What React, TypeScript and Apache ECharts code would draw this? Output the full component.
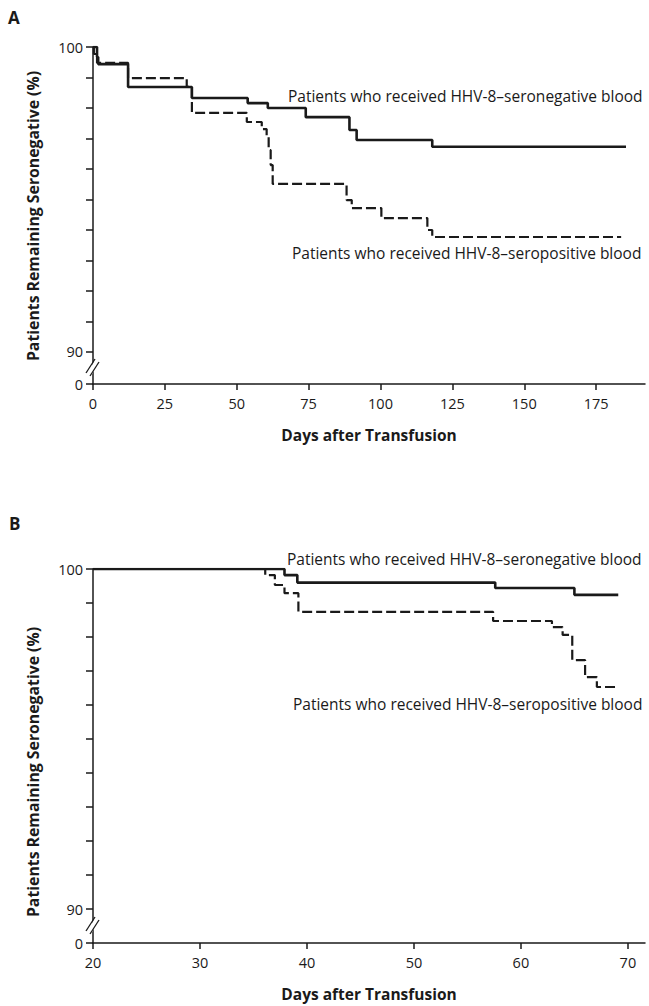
import React, { useEffect, useRef } from "react";
import * as echarts from "echarts";

const FONT = '"Open Sans", "Noto Sans", sans-serif';
const INK = "#1a1a1a";

// ---------- Panel A ----------
const daysTicksA = [0, 25, 50, 75, 100, 125, 150, 175];
const yTicksA = [88.95, 90, 91, 92, 93, 94, 95, 96, 97, 98, 99, 100];
const yLabelsA = [88.95, 90, 100];
// [day, % remaining seronegative]
const seronegA: [number, number][] = [
  [0, 100], [1.4, 99.67], [1.8, 99.44], [12.2, 98.69], [34.4, 98.33],
  [53.8, 98.16], [60.8, 98.0], [74, 97.7], [89.2, 97.28], [91.7, 96.95],
  [118, 96.73], [185.4, 96.73],
];
const seroposA: [number, number][] = [
  [0, 100], [0.3, 99.77], [1.4, 99.48], [12.2, 98.98], [32.6, 98.69],
  [34.4, 97.84], [53.5, 97.54], [58.7, 97.31], [60.4, 97.05], [61.1, 96.62],
  [61.8, 96.13], [62.5, 95.51], [88.2, 94.98], [90, 94.72], [100.3, 94.39],
  [116.3, 94.0], [118, 93.77], [183.7, 93.77],
];

// ---------- Panel B ----------
const daysTicksB = [20, 30, 40, 50, 60, 70];
const yTicksB = [89, 90, 91, 92, 93, 94, 95, 96, 97, 98, 99, 100];
const yLabelsB = [89, 90, 100];
const seronegB: [number, number][] = [
  [20, 100], [37.9, 99.82], [39.1, 99.6], [57.6, 99.44], [65.0, 99.24], [69.1, 99.24],
];
const seroposB: [number, number][] = [
  [20, 100], [36.1, 99.82], [37.0, 99.53], [37.9, 99.29], [39.2, 98.74],
  [57.4, 98.47], [62.9, 98.29], [63.9, 98.06], [64.8, 97.32], [66.0, 96.82],
  [67.1, 96.53], [69.0, 96.53],
];

const labelNeg = "Patients who received HHV-8–seronegative blood";
const labelPos = "Patients who received HHV-8–seropositive blood";
const yTitle = "Patients Remaining Seronegative (%)";
const xTitle = "Days after Transfusion";

function xAxis(grid: number, min: number, max: number, ticks: number[]) {
  return {
    type: "value",
    gridIndex: grid,
    min,
    max,
    axisLine: { show: true, onZero: false, lineStyle: { color: INK, width: 1.5 } },
    axisTick: { show: true, customValues: ticks, length: 6, lineStyle: { color: INK, width: 1.5 } },
    axisLabel: { customValues: ticks, fontSize: 14.5, fontFamily: FONT, color: INK, margin: 12 },
    splitLine: { show: false },
    name: xTitle,
    nameLocation: "middle",
    nameGap: 43,
    nameTextStyle: { fontSize: 15.5, fontWeight: "bold", fontFamily: FONT, color: INK },
  };
}

function yAxis(grid: number, min: number, ticks: number[], labels: number[]) {
  return {
    type: "value",
    gridIndex: grid,
    min,
    max: 100,
    axisLine: { show: true, onZero: false, lineStyle: { color: INK, width: 1.5 } },
    axisTick: { show: true, customValues: ticks, length: 7, lineStyle: { color: INK, width: 1.5 } },
    axisLabel: {
      customValues: labels,
      fontSize: 14.5,
      fontFamily: FONT,
      color: INK,
      margin: 10,
      formatter: (v: number) => (v < 89.5 ? "0" : String(Math.round(v))),
    },
    splitLine: { show: false },
  };
}

function curve(idx: number, data: [number, number][], dashed: boolean) {
  return {
    type: "line",
    xAxisIndex: idx,
    yAxisIndex: idx,
    data,
    step: "end",
    symbol: "none",
    silent: true,
    z: dashed ? 2 : 3,
    lineStyle: dashed
      ? { color: INK, width: 2.2, type: [10, 4] }
      : { color: INK, width: 2.6, type: "solid" },
  };
}

export default function App() {
  const ref = useRef<HTMLDivElement>(null);
  useEffect(() => {
    if (!ref.current) return;
    const chart = echarts.init(ref.current, undefined, { renderer: "svg" });
    const option: any = {
      animation: false,
      backgroundColor: "#ffffff",
      grid: [
        { left: 93, top: 47, width: 552, height: 337 },
        { left: 93, top: 569, width: 552, height: 374 },
      ],
      xAxis: [xAxis(0, 0, 192, daysTicksA), xAxis(1, 20, 71.6, daysTicksB)],
      yAxis: [yAxis(0, 88.95, yTicksA, yLabelsA), yAxis(1, 89, yTicksB, yLabelsB)],
      series: [
        curve(0, seroposA, true),
        curve(0, seronegA, false),
        curve(1, seroposB, true),
        curve(1, seronegB, false),
      ],
    };
    chart.setOption(option);

    const breakMark = (idx: number, lo: number) => {
      const p = chart.convertToPixel({ xAxisIndex: idx, yAxisIndex: idx }, [idx === 0 ? 0 : 20, (90 + lo) / 2]) as number[];
      const [cx, cy] = p;
      return [
        {
          type: "polygon",
          shape: { points: [[cx - 6, cy + 6], [cx + 2, cy - 8], [cx + 6, cy - 6], [cx - 2, cy + 8]] },
          style: { fill: "#ffffff" },
          z: 10,
        },
        { type: "line", shape: { x1: cx - 7, y1: cy + 5, x2: cx + 2, y2: cy - 9 }, style: { stroke: INK, lineWidth: 1.3 }, z: 11 },
        { type: "line", shape: { x1: cx - 3, y1: cy + 8, x2: cx + 6, y2: cy - 6 }, style: { stroke: INK, lineWidth: 1.3 }, z: 11 },
      ];
    };

    const txt = (text: string, x: number, y: number, extra: any = {}) => ({
      type: "text",
      x,
      y,
      z: 20,
      style: {
        text,
        fontSize: 15.5,
        fontFamily: FONT,
        fill: INK,
        align: "left",
        verticalAlign: "middle",
        ...extra,
      },
    });

    chart.setOption({
      graphic: [
        txt("A", 8, 17, { fontSize: 17, fontWeight: "bold" }),
        txt("B", 9, 523, { fontSize: 17, fontWeight: "bold" }),
        txt(labelNeg, 288, 96),
        txt(labelPos, 292, 253),
        txt(labelNeg, 287, 559),
        txt(labelPos, 293, 704),
        { ...txt(yTitle, 33, 216, { fontWeight: "bold", align: "center", fontSize: 15.8 }), rotation: Math.PI / 2 },
        { ...txt(yTitle, 33, 772, { fontWeight: "bold", align: "center", fontSize: 15.8 }), rotation: Math.PI / 2 },
        ...breakMark(0, 88.95),
        ...breakMark(1, 89),
      ],
    });

    return () => chart.dispose();
  }, []);
  return (
    <div
      ref={ref}
      style={{ position: "absolute", left: 0, top: 0, width: 649, height: 1006, background: "#fff" }}
    />
  );
}
